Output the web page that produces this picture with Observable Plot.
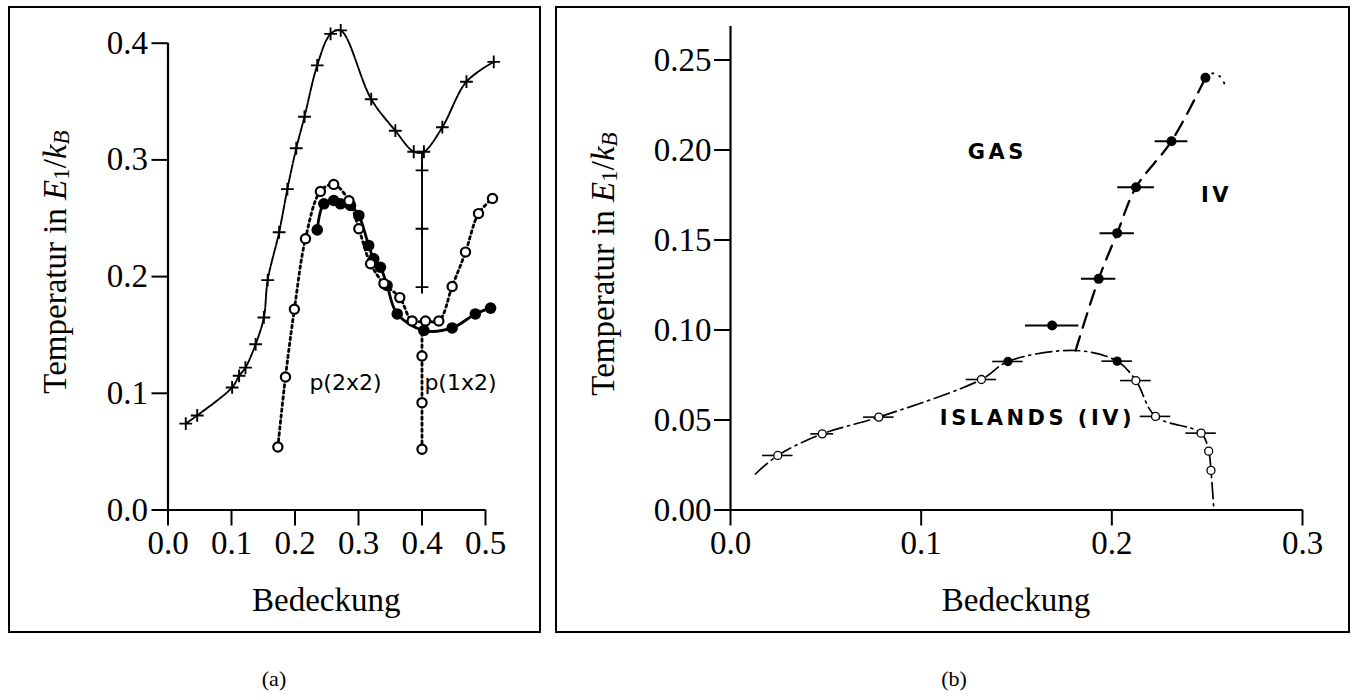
<!DOCTYPE html>
<html><head><meta charset="utf-8">
<script src="https://cdn.jsdelivr.net/npm/d3@7"></script>
<script src="https://cdn.jsdelivr.net/npm/@observablehq/plot@0.6"></script>
<style>
body{margin:0;background:#fff;width:1357px;height:700px;position:relative;overflow:hidden;font-family:"Liberation Serif",serif}
.box{position:absolute;border:2px solid #000;box-sizing:border-box}
.cap{position:absolute;font-size:22px;transform:translateX(-50%);font-family:"Liberation Serif",serif}
.panel{position:absolute}
.panel svg{overflow:visible}
</style></head><body>
<div class="box" style="left:8px;top:6px;width:533px;height:627px"></div>
<div class="box" style="left:555px;top:6px;width:795px;height:627px"></div>
<div id="pa" class="panel" style="left:8px;top:6px"></div>
<div id="pb" class="panel" style="left:555px;top:6px"></div>
<div class="cap" style="left:274px;top:666px">(a)</div>
<div class="cap" style="left:954px;top:666px">(b)</div>
<script>
// ---------- Panel (a) data ----------
const plusX = [0.028,0.046,0.101,0.112,0.122,0.138,0.151,0.157,0.175,0.188,0.202,0.215,0.235,0.256,0.272,0.320,0.358,0.387,0.403,0.432,0.470,0.513];
const plusY = [0.074,0.081,0.105,0.115,0.122,0.142,0.165,0.197,0.238,0.275,0.310,0.337,0.381,0.408,0.411,0.352,0.325,0.307,0.307,0.328,0.367,0.384];
const plusBranchX = [0.400,0.400,0.400,0.400];
const plusBranchY = [0.307,0.291,0.241,0.191];
const openX = [0.173,0.185,0.199,0.2165,0.240,0.261,0.285,0.3005,0.319,0.340,0.365,0.3845,0.4055,0.4265,0.4475,0.4685,0.489,0.511];
const openY = [0.054,0.114,0.172,0.2325,0.273,0.279,0.265,0.241,0.211,0.194,0.182,0.162,0.162,0.162,0.1915,0.221,0.254,0.267];
const openBranchX = [0.400,0.400,0.400,0.400];
const openBranchY = [0.162,0.132,0.092,0.052];
const filledX = [0.235,0.2455,0.261,0.2717,0.2874,0.3005,0.316,0.324,0.3346,0.345,0.361,0.403,0.4475,0.484,0.508];
const filledY = [0.240,0.2624,0.2652,0.2624,0.261,0.2524,0.2267,0.2152,0.208,0.1924,0.168,0.1538,0.156,0.168,0.173];
const phaseLabelsA = ["p(2x2)","p(1x2)"];
const phaseLabelAX = [0.2795,0.4606];
const phaseLabelAY = [0.109,0.109];
const ticksAX = [0,0.1,0.2,0.3,0.4,0.5];
const tickLabelsAX = ["0.0","0.1","0.2","0.3","0.4","0.5"];
const ticksAY = [0,0.1,0.2,0.3,0.4];
const tickLabelsAY = ["0.0","0.1","0.2","0.3","0.4"];

// ---------- Panel (b) data ----------
const ivX = [0.1687,0.1931,0.2028,0.2127,0.2313,0.2491];
const ivY = [0.1025,0.1284,0.1538,0.1793,0.2049,0.2401];
const ivErr = [0.014,0.009,0.009,0.0096,0.0086,0];
const ivLineX = [0.181,0.1931,0.2028,0.2127,0.2313,0.2491];
const ivLineY = [0.0886,0.1284,0.1538,0.1793,0.2049,0.2401];
const tailX = [0.2491,0.2537,0.2578,0.2601];
const tailY = [0.2401,0.2427,0.2395,0.2334];
const islX = [0.0131,0.0248,0.0481,0.0778,0.1316,0.1455,0.181,0.2028,0.2126,0.2229,0.2468,0.2508,0.252,0.2535];
const islY = [0.020,0.0303,0.0423,0.0516,0.0725,0.0825,0.0886,0.0827,0.0719,0.052,0.0427,0.0327,0.022,0];
const islPtX = [0.0248,0.0481,0.0778,0.1316,0.1455,0.2028,0.2126,0.2229,0.2468,0.2508,0.252];
const islPtY = [0.0303,0.0423,0.0516,0.0725,0.0825,0.0827,0.0719,0.052,0.0427,0.0327,0.022];
const islPtFilled = [false,false,false,false,true,true,false,false,false,false,false];
const islErr = [0.008,0.006,0.008,0.008,0.008,0.008,0.008,0.008,0.008,0,0];
const regionLabels = ["GAS","IV","ISLANDS (IV)"];
const regionX = [0.140,0.2549,0.161];
const regionY = [0.1986,0.1747,0.0508];
const ticksBX = [0,0.1,0.2,0.3];
const tickLabelsBX = ["0.0","0.1","0.2","0.3"];
const ticksBY = [0,0.05,0.10,0.15,0.20,0.25];
const tickLabelsBY = ["0.00","0.05","0.10","0.15","0.20","0.25"];

const rows = (xs, ys, extra = {}) => xs.map((x, i) => {
  const r = {x, y: ys[i]};
  for (const k in extra) r[k] = extra[k][i];
  return r;
});
const fmt = (ticks, labels) => d => labels[ticks.findIndex(t => Math.abs(t - d) < 1e-9)];
const serif = "'Liberation Serif', serif";
const FS = 33;

// ---------- Plot (a) ----------
const plusRows = rows(plusX, plusY);
const plusBranch = rows(plusBranchX, plusBranchY);
const openRows = rows(openX, openY);
const openBranch = rows(openBranchX, openBranchY);
const filledRows = rows(filledX, filledY);
const labelRowsA = rows(phaseLabelAX, phaseLabelAY, {t: phaseLabelsA});

const plotA = Plot.plot({
  width: 532, height: 626,
  marginLeft: 159.5, marginRight: 55, marginTop: 36.7, marginBottom: 122.5,
  x: {domain: [0, 0.5]},
  y: {domain: [0, 0.4]},
  style: {fontFamily: serif, fontSize: FS + "px", color: "#000", background: "transparent", overflow: "visible"},
  marks: [
    Plot.axisX(ticksAX, {tickSize: 16, tickPadding: 5, strokeWidth: 2, tickFormat: fmt(ticksAX, tickLabelsAX), label: null, fontSize: FS}),
    Plot.axisY(ticksAY, {tickSize: 16, tickPadding: 4, strokeWidth: 2, tickFormat: fmt(ticksAY, tickLabelsAY), label: null, fontSize: FS}),
    Plot.ruleY([0], {x1: 0, x2: 0.5, strokeWidth: 2.2}),
    Plot.ruleX([0], {y1: 0, y2: 0.4, strokeWidth: 2.2}),
    Plot.line(plusRows, {x: "x", y: "y", curve: "catmull-rom", strokeWidth: 1.9, strokeDasharray: "9,1.5"}),
    Plot.line(plusBranch, {x: "x", y: "y", strokeWidth: 1.9}),
    Plot.dot(plusRows.concat(plusBranch.slice(1)), {x: "x", y: "y", symbol: "plus", r: 4.2, strokeWidth: 1.9, stroke: "black"}),
    Plot.line(openRows, {x: "x", y: "y", curve: "catmull-rom", strokeWidth: 2.8, strokeDasharray: "2.5,3.5"}),
    Plot.line(openBranch, {x: "x", y: "y", strokeWidth: 2.8, strokeDasharray: "2.5,3.5"}),
    Plot.line(filledRows, {x: "x", y: "y", curve: "catmull-rom", strokeWidth: 2.8}),
    Plot.dot(filledRows, {x: "x", y: "y", r: 5.8, fill: "black"}),
    Plot.dot(openRows.concat(openBranch.slice(1)), {x: "x", y: "y", r: 4.6, fill: "white", stroke: "black", strokeWidth: 2.2}),
    Plot.text(labelRowsA, {x: "x", y: "y", text: "t", fontFamily: "'DejaVu Sans', sans-serif", fontSize: 22, fill: "black"})
  ]
});
document.getElementById("pa").appendChild(plotA);

// ---------- Plot (b) ----------
const ivRows = rows(ivX, ivY, {e: ivErr});
const ivLine = rows(ivLineX, ivLineY);
const tailRows = rows(tailX, tailY);
const islRows = rows(islX, islY);
const islPts = rows(islPtX, islPtY, {f: islPtFilled, e: islErr});
const regionRows = rows(regionX, regionY, {t: regionLabels});

const plotB = Plot.plot({
  width: 794, height: 626,
  marginLeft: 175, marginRight: 47, marginTop: 20, marginBottom: 122.5,
  x: {domain: [0, 0.3]},
  y: {domain: [0, 0.2686]},
  style: {fontFamily: serif, fontSize: FS + "px", color: "#000", background: "transparent", overflow: "visible"},
  marks: [
    Plot.axisX(ticksBX, {tickSize: 16, tickPadding: 5, strokeWidth: 2, tickFormat: fmt(ticksBX, tickLabelsBX), label: null, fontSize: FS}),
    Plot.axisY(ticksBY, {tickSize: 16, tickPadding: 3, strokeWidth: 2, tickFormat: fmt(ticksBY, tickLabelsBY), label: null, fontSize: FS}),
    Plot.ruleY([0], {x1: 0, x2: 0.3, strokeWidth: 2.2}),
    Plot.ruleX([0], {y1: 0, y2: 0.2686, strokeWidth: 2.2}),
    Plot.line(islRows, {x: "x", y: "y", curve: "catmull-rom", strokeWidth: 1.7, strokeDasharray: "16,5,2,5"}),
    Plot.line(ivLine, {x: "x", y: "y", curve: "catmull-rom", strokeWidth: 2.3, strokeDasharray: "15,9"}),
    Plot.line(tailRows, {x: "x", y: "y", curve: "catmull-rom", strokeWidth: 2, strokeDasharray: "1,7", strokeLinecap: "round"}),
    Plot.ruleY(ivRows.filter(d => d.e > 0), {y: "y", x1: d => d.x - d.e, x2: d => d.x + d.e, strokeWidth: 2}),
    Plot.dot(ivRows, {x: "x", y: "y", r: 5, fill: "black"}),
    Plot.ruleY(islPts.filter(d => d.e > 0), {y: "y", x1: d => d.x - d.e, x2: d => d.x + d.e, strokeWidth: 1.6}),
    Plot.dot(islPts, {x: "x", y: "y", r: 4, fill: d => d.f ? "black" : "white", stroke: "black", strokeWidth: 1.3}),
    Plot.text(regionRows, {x: "x", y: "y", text: "t", fontFamily: "'DejaVu Sans', sans-serif", fontWeight: "bold", fontSize: 21, fill: "black"})
  ]
});
document.getElementById("pb").appendChild(plotB);
d3.select(plotB).selectAll("text").filter(function(){ return regionLabels.includes(this.textContent); }).attr("letter-spacing", "3.5px");

// ---------- axis titles (real text with italic / subscripts) ----------
function addTitles(svg, xc, yLabelX, yc) {
  const s = d3.select(svg);
  s.append("text").attr("x", xc).attr("y", 594).attr("text-anchor", "middle")
    .attr("dominant-baseline", "central").attr("font-family", serif).attr("font-size", FS).attr("fill", "black")
    .text("Bedeckung");
  const t = s.append("text").attr("transform", `translate(${yLabelX},${yc}) rotate(-90)`)
    .attr("text-anchor", "middle").attr("dominant-baseline", "central")
    .attr("font-family", serif).attr("font-size", FS).attr("fill", "black");
  t.append("tspan").text("Temperatur in ");
  t.append("tspan").attr("font-style", "italic").text("E");
  t.append("tspan").attr("font-size", 23).attr("dy", 6).text("1");
  t.append("tspan").attr("dy", -6).text("/");
  t.append("tspan").attr("font-style", "italic").text("k");
  t.append("tspan").attr("font-size", 23).attr("font-style", "italic").attr("dy", 6).text("B");
}
addTitles(plotA, plotA.scale("x").apply(0.25), 47, 256);
addTitles(plotB, plotB.scale("x").apply(0.15), 48, 258);
</script>
</body></html>
